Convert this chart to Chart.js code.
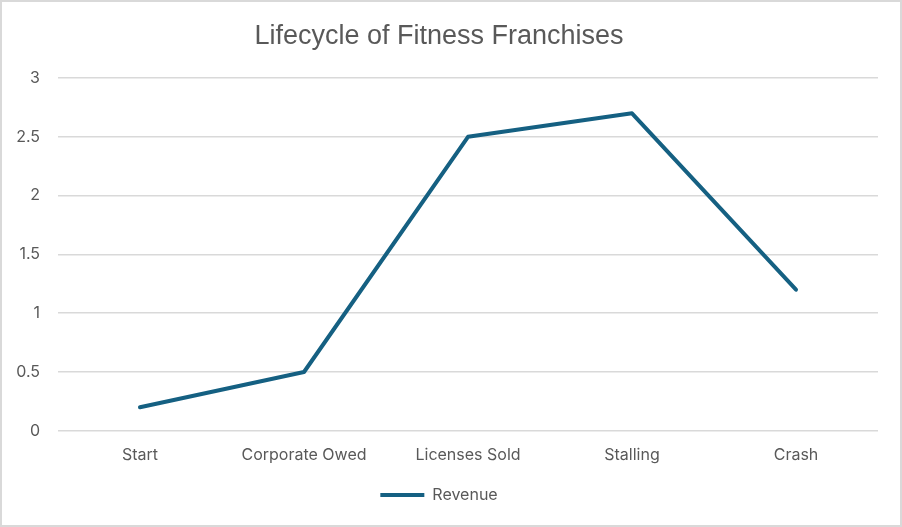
<!DOCTYPE html>
<html>
<head>
<meta charset="utf-8">
<script src="https://cdn.jsdelivr.net/npm/chart.js@4"></script>
<style>
  html, body { margin: 0; padding: 0; background: #fff; }
  #wrap { width: 902px; height: 527px; }
</style>
</head>
<body>
<div id="wrap"><canvas id="lifeChart" width="902" height="527"></canvas></div>
<script>
const stages = ["Start", "Corporate Owed", "Licenses Sold", "Stalling", "Crash"];
const revenue = [0.2, 0.5, 2.5, 2.7, 1.2];
const yTicks = [0, 0.5, 1, 1.5, 2, 2.5, 3];

const lineColor = "#156082";
const textColor = "#595959";
const gridColor = "#d9d9d9";

// white background and thin frame like the Excel chart area
const frame = {
  id: "frame",
  beforeDraw(chart) {
    const ctx = chart.ctx;
    ctx.save();
    ctx.fillStyle = "#fff";
    ctx.fillRect(0, 0, chart.width, chart.height);
    ctx.strokeStyle = gridColor;
    ctx.lineWidth = 2;
    ctx.strokeRect(1, 1, chart.width - 2, chart.height - 2);
    ctx.restore();
  }
};

const ctx = document.getElementById("lifeChart").getContext("2d");
new Chart(ctx, {
  type: "line",
  data: {
    labels: stages,
    datasets: [{
      label: "Revenue",
      data: revenue,
      borderColor: lineColor,
      backgroundColor: lineColor,
      borderWidth: 4,
      borderCapStyle: "round",
      borderJoinStyle: "round",
      pointRadius: 0,
      pointHoverRadius: 0,
      tension: 0,
      fill: false
    }]
  },
  options: {
    responsive: false,
    animation: false,
    layout: { padding: { left: 0, right: 24, top: 0, bottom: 14 } },
    plugins: {
      title: {
        display: true,
        text: "Lifecycle of Fitness Franchises",
        color: textColor,
        font: { family: "'Liberation Sans', sans-serif", size: 27, weight: "normal" },
        padding: { top: 20, bottom: 25.6 }
      },
      legend: {
        position: "bottom",
        labels: {
          color: textColor,
          font: { family: "Inter, 'Liberation Sans', sans-serif", size: 16 },
          usePointStyle: true,
          pointStyle: "line",
          pointStyleWidth: 44,
          padding: 7
        }
      },
      tooltip: { enabled: false }
    },
    scales: {
      x: {
        offset: true,
        grid: { display: false, drawTicks: false },
        border: { display: false },
        ticks: {
          color: textColor,
          font: { family: "Inter, 'Liberation Sans', sans-serif", size: 16 },
          padding: 15,
          maxRotation: 0
        }
      },
      y: {
        min: 0,
        max: 3,
        afterBuildTicks(scale) {
          scale.ticks = yTicks.map(v => ({ value: v }));
        },
        afterFit(scale) {
          scale.width = 58;
        },
        grid: { color: gridColor, lineWidth: 1.5, drawTicks: false },
        border: { display: false },
        ticks: {
          color: textColor,
          font: { family: "Inter, 'Liberation Sans', sans-serif", size: 16 },
          padding: 18,
          callback: v => String(v)
        }
      }
    }
  },
  plugins: [frame]
});
</script>
</body>
</html>
